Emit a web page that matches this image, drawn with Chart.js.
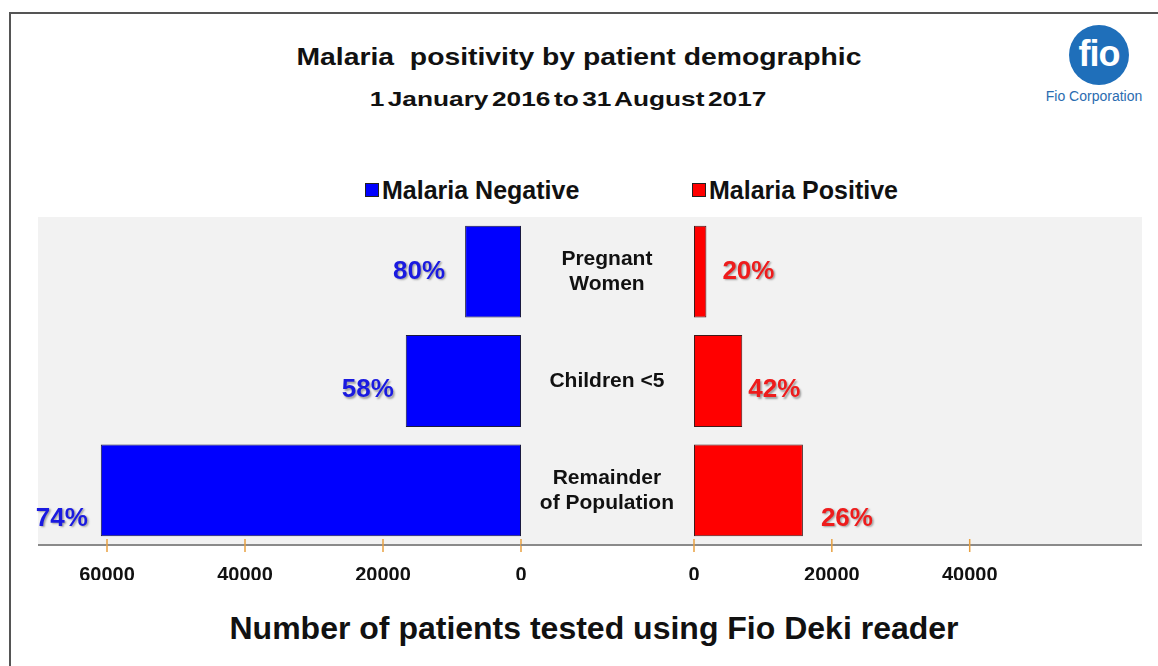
<!DOCTYPE html>
<html>
<head>
<meta charset="utf-8">
<script src="https://cdn.jsdelivr.net/npm/chart.js@4.4.0/dist/chart.umd.min.js"></script>
<style>
  body { margin: 0; background: #fff; font-family: "Liberation Sans", Arial, sans-serif; }
  #page { position: relative; width: 1158px; height: 666px; overflow: hidden; }
  #frame { position: absolute; left: 9px; top: 12px; width: 1300px; height: 800px; border-left: 2px solid #555; border-top: 2px solid #555; }
  .txt { position: absolute; font-weight: bold; color: #111; white-space: nowrap; line-height: 1; }
  #plotBg { position: absolute; left: 38px; top: 217px; width: 1104px; height: 328px; background: #f2f2f2; }
  #leftWrap { position: absolute; left: 18px; top: 217px; width: 523px; height: 363px; }
  #rightWrap { position: absolute; left: 521px; top: 217px; width: 621px; height: 363px; }
  .leg { position: absolute; top: 177px; font-weight: bold; font-size: 25px; color: #111; line-height: 26px; white-space: nowrap; }
  .leg i { display: inline-block; width: 12px; height: 12px; border: 1px solid #222; margin-right: 3px; vertical-align: 2px; }
  #logo { position: absolute; left: 1069px; top: 25px; width: 60px; height: 60px; border-radius: 50%; background: #1f6fba;
          color: #fff; font-weight: bold; font-size: 36px; text-align: center; line-height: 58px; letter-spacing: -1px; }
  #logoTxt { position: absolute; left: 1036px; top: 88px; width: 116px; text-align: center; color: #2b6cb0; font-size: 14px;
             font-family: "Liberation Sans Narrow", "Liberation Sans", Arial, sans-serif; }
</style>
</head>
<body>
<div id="page">
  <div id="frame"></div>
  <div class="txt" id="title" style="left:579px; top:45px; font-size:24px; transform:translateX(-50%) scaleX(1.18);">Malaria&nbsp; positivity by patient demographic</div>
  <div class="txt" id="subtitle" style="left:568px; top:88px; font-size:21px; word-spacing:-3px; transform:translateX(-50%) scaleX(1.25);">1 January 2016 to 31 August 2017</div>
  <div id="logo">fio</div>
  <div id="logoTxt">Fio Corporation</div>
  <div id="legend"></div>
  <div id="plotBg"></div>
  <div id="leftWrap"><canvas id="leftChart"></canvas></div>
  <div id="rightWrap"><canvas id="rightChart"></canvas></div>
  <div class="txt" style="left:594px; top:612px; font-size:32px; transform:translateX(-50%);">Number of patients tested using Fio Deki reader</div>
</div>

<script>
// data
const categories = [['Pregnant', 'Women'], 'Children <5', ['Remainder', 'of Population']];
const negativeCounts = [8100, 16700, 60900];
const positiveCounts = [1800, 7000, 15800];
const negativePct = ['80%', '58%', '74%'];
const positivePct = ['20%', '42%', '26%'];
const leftTicks = [0, 20000, 40000, 60000];
const rightTicks = [0, 20000, 40000];

const tickFont = { family: '"Liberation Sans", Arial, sans-serif', size: 20, weight: 'bold' };

// baseline across the plot plus orange tick marks crossing it
const axisMarks = {
  id: 'axisMarks',
  afterDraw(chart) {
    const ctx = chart.ctx, xs = chart.scales.x, y = chart.chartArea.bottom;
    const x0 = chart.canvas.id === 'leftChart' ? 20 : 0;
    ctx.save();
    ctx.strokeStyle = '#8a8a8a';
    ctx.lineWidth = 2;
    ctx.beginPath();
    ctx.moveTo(x0, y);
    ctx.lineTo(chart.chartArea.right, y);
    ctx.stroke();
    ctx.strokeStyle = '#e8a040';
    ctx.lineWidth = 1.5;
    xs.ticks.forEach(t => {
      const px = xs.getPixelForValue(t.value);
      ctx.beginPath();
      ctx.moveTo(px, y - 6);
      ctx.lineTo(px, y + 7);
      ctx.stroke();
    });
    ctx.restore();
  }
};

// percentage text next to the bar ends
const pctLabels = {
  id: 'pctLabels',
  afterDatasetsDraw(chart, args, opts) {
    const ctx = chart.ctx;
    const meta = chart.getDatasetMeta(0);
    ctx.save();
    ctx.font = 'bold 26px "Liberation Sans", Arial, sans-serif';
    ctx.fillStyle = opts.color;
    ctx.textBaseline = 'middle';
    ctx.textAlign = opts.side === 'left' ? 'right' : 'left';
    ctx.shadowColor = 'rgba(0,0,0,0.35)';
    ctx.shadowBlur = 2;
    ctx.shadowOffsetX = 1.5;
    ctx.shadowOffsetY = 1.5;
    meta.data.forEach((bar, i) => {
      const x = opts.side === 'left' ? bar.x - opts.gap[i] : bar.x + opts.gap[i];
      ctx.fillText(opts.labels[i], x, bar.y + opts.dy[i]);
    });
    ctx.restore();
  }
};

const labelDy = [0, 9, 28];

const leftChart = new Chart(document.getElementById('leftChart'), {
  type: 'bar',
  data: {
    labels: categories,
    datasets: [{
      label: 'Malaria Negative',
      data: negativeCounts,
      backgroundColor: '#0000ff',
      borderColor: '#1a1a40',
      borderWidth: 1,
      borderSkipped: false,
      barPercentage: 0.84,
      categoryPercentage: 1
    }]
  },
  options: {
    indexAxis: 'y',
    responsive: true,
    maintainAspectRatio: false,
    animation: false,
    layout: { padding: { left: 20, right: 20, top: 0, bottom: 0 } },
    scales: {
      x: {
        reverse: true,
        min: 0,
        max: 70000,
        afterBuildTicks: s => { s.ticks = leftTicks.map(v => ({ value: v })); },
        afterFit: s => { s.height = 35; },
        grid: { display: false, drawTicks: false },
        border: { display: false },
        ticks: { padding: 18, color: '#111', font: tickFont, maxRotation: 0, callback: v => String(v) }
      },
      y: { display: false }
    },
    plugins: {
      legend: { display: false },
      tooltip: { enabled: false },
      pctLabels: { labels: negativePct, color: '#1a1ae0', side: 'left', dy: labelDy, gap: [20, 12, 13] }
    }
  },
  plugins: [axisMarks, pctLabels]
});

const rightChart = new Chart(document.getElementById('rightChart'), {
  type: 'bar',
  data: {
    labels: categories,
    datasets: [{
      label: 'Malaria Positive',
      data: positiveCounts,
      backgroundColor: '#ff0000',
      borderColor: '#401a1a',
      borderWidth: 1,
      borderSkipped: false,
      barPercentage: 0.84,
      categoryPercentage: 1
    }]
  },
  options: {
    indexAxis: 'y',
    responsive: true,
    maintainAspectRatio: false,
    animation: false,
    layout: { padding: 0 },
    scales: {
      x: {
        min: 0,
        max: 65000,
        afterBuildTicks: s => { s.ticks = rightTicks.map(v => ({ value: v })); },
        afterFit: s => { s.height = 35; },
        grid: { display: false, drawTicks: false },
        border: { display: false },
        ticks: { padding: 18, color: '#111', font: tickFont, maxRotation: 0, callback: v => String(v) }
      },
      y: {
        afterFit: s => { s.width = 173; s.paddingTop = 0; s.paddingBottom = 0; },
        grid: { display: false, drawTicks: false },
        border: { display: false },
        ticks: { crossAlign: 'center', color: '#111', padding: 20,
                 font: { family: '"Liberation Sans", Arial, sans-serif', size: 21, weight: 'bold' } }
      }
    },
    plugins: {
      legend: { display: false },
      tooltip: { enabled: false },
      pctLabels: { labels: positivePct, color: '#ee1c1c', side: 'right', dy: labelDy, gap: [16, 6, 18] }
    }
  },
  plugins: [axisMarks, pctLabels]
});

// legend built from the two datasets
const legendEl = document.getElementById('legend');
const legendLeft = [365, 692];
[leftChart, rightChart].forEach((c, i) => {
  const ds = c.data.datasets[0];
  const item = document.createElement('div');
  item.className = 'leg';
  item.style.left = legendLeft[i] + 'px';
  item.innerHTML = `<i style="background:${ds.backgroundColor}"></i>${ds.label}`;
  legendEl.appendChild(item);
});
</script>
</body>
</html>
